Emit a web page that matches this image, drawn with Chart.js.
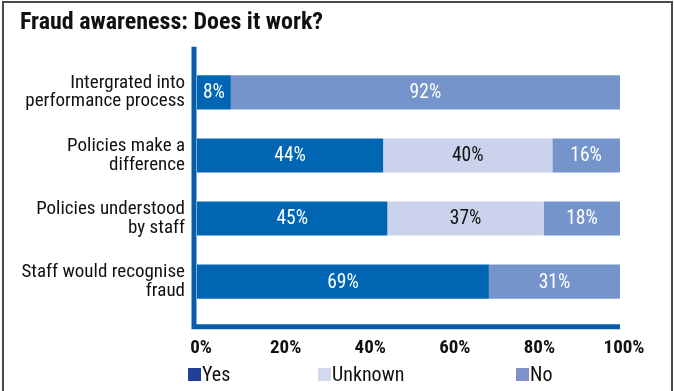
<!DOCTYPE html>
<html>
<head>
<meta charset="utf-8">
<script src="https://cdn.jsdelivr.net/npm/chart.js@4.4.1/dist/chart.umd.min.js"></script>
<style>
  html, body { margin: 0; padding: 0; background: #fff; }
  #wrap { position: relative; width: 674px; height: 391px; overflow: hidden; }
  #frame {
    position: absolute; left: 2px; top: 1px; width: 671px; height: 420px;
    box-sizing: border-box; border: 2px solid #4a4a4a; pointer-events: none;
  }
</style>
</head>
<body>
<div id="wrap">
  <canvas id="chart" width="674" height="391"></canvas>
  <div id="frame"></div>
</div>
<script>
const categories = [
  ['Intergrated into', 'performance process'],
  ['Policies make a', 'difference'],
  ['Policies understood', 'by staff'],
  ['Staff would recognise', 'fraud']
];
const yesValues = [8, 44, 45, 69];
const unknownValues = [0, 40, 37, 0];
const noValues = [92, 16, 18, 31];
const xTicks = [0, 20, 40, 60, 80, 100];

const FONT = "'Roboto Condensed', 'Open Sans', sans-serif";
const AXIS_BLUE = '#0a5ca8';

// percentage labels in the middle of each segment
const segmentLabels = {
  id: 'segmentLabels',
  afterDatasetsDraw(chart) {
    const ctx = chart.ctx;
    ctx.save();
    ctx.font = '19.5px ' + FONT;
    ctx.textAlign = 'center';
    ctx.textBaseline = 'middle';
    chart.data.datasets.forEach((ds, i) => {
      chart.getDatasetMeta(i).data.forEach((bar, j) => {
        const v = ds.data[j];
        if (!v) return;
        const p = bar.getCenterPoint();
        ctx.fillStyle = ds.labelColor;
        ctx.fillText(v + '%', p.x, p.y + 1);
      });
    });
    ctx.restore();
  }
};

// thick L-shaped axis line that runs a little past the plot area
const axisFrame = {
  id: 'axisFrame',
  afterDraw(chart) {
    const a = chart.chartArea;
    const ctx = chart.ctx;
    ctx.save();
    ctx.strokeStyle = AXIS_BLUE;
    ctx.lineWidth = 5;
    ctx.beginPath();
    ctx.moveTo(a.left - 3, a.top - 14);
    ctx.lineTo(a.left - 3, a.bottom + 13.5);
    ctx.lineTo(a.right, a.bottom + 13.5);
    ctx.stroke();
    ctx.restore();
  }
};

// legend row along the bottom
const legendX = [188, 318, 516];
const bottomLegend = {
  id: 'bottomLegend',
  afterDraw(chart) {
    const ctx = chart.ctx;
    const y = 375;
    ctx.save();
    ctx.font = '20px ' + FONT;
    ctx.textBaseline = 'middle';
    ctx.textAlign = 'left';
    chart.data.datasets.forEach((ds, i) => {
      const x = legendX[i];
      ctx.fillStyle = ds.legendColor;
      ctx.fillRect(x, y - 7, 13, 13);
      ctx.fillStyle = '#111';
      ctx.fillText(ds.label, x + 14, y + 1);
    });
    ctx.restore();
  }
};

new Chart(document.getElementById('chart'), {
  type: 'bar',
  data: {
    labels: categories,
    datasets: [
      { label: 'Yes', data: yesValues, backgroundColor: '#0066b3', legendColor: '#21409a', labelColor: '#fff' },
      { label: 'Unknown', data: unknownValues, backgroundColor: '#cbd3ec', legendColor: '#d3d9ec', labelColor: '#111' },
      { label: 'No', data: noValues, backgroundColor: '#7694cc', legendColor: '#7f91c7', labelColor: '#fff' }
    ]
  },
  options: {
    indexAxis: 'y',
    responsive: false,
    animation: false,
    layout: { padding: { left: 20, right: 54, top: 9, bottom: 7 } },
    datasets: { bar: { barPercentage: 1, categoryPercentage: 0.54, borderWidth: 0 } },
    plugins: {
      legend: { display: false },
      tooltip: { enabled: false },
      title: {
        display: true,
        text: 'Fraud awareness: Does it work?',
        align: 'start',
        color: '#111',
        font: { family: FONT, size: 24, weight: 'bold' },
        padding: { top: 0, bottom: 23 }
      }
    },
    scales: {
      x: {
        stacked: true,
        min: 0,
        max: 100,
        afterBuildTicks(scale) { scale.ticks = xTicks.map(v => ({ value: v })); },
        grid: { display: false, drawTicks: false },
        border: { display: false },
        ticks: {
          padding: 24,
          labelOffset: 4,
          color: '#111',
          font: { family: FONT, size: 19, weight: 'bold' },
          callback: v => v + '%'
        }
      },
      y: {
        stacked: true,
        afterFit(scale) { scale.width = 177; },
        grid: { display: false, drawTicks: false },
        border: { display: false },
        ticks: {
          padding: 12,
          color: '#111',
          font: { family: FONT, size: 19, lineHeight: 0.98 }
        }
      }
    }
  },
  plugins: [segmentLabels, axisFrame, bottomLegend]
});
</script>
</body>
</html>
